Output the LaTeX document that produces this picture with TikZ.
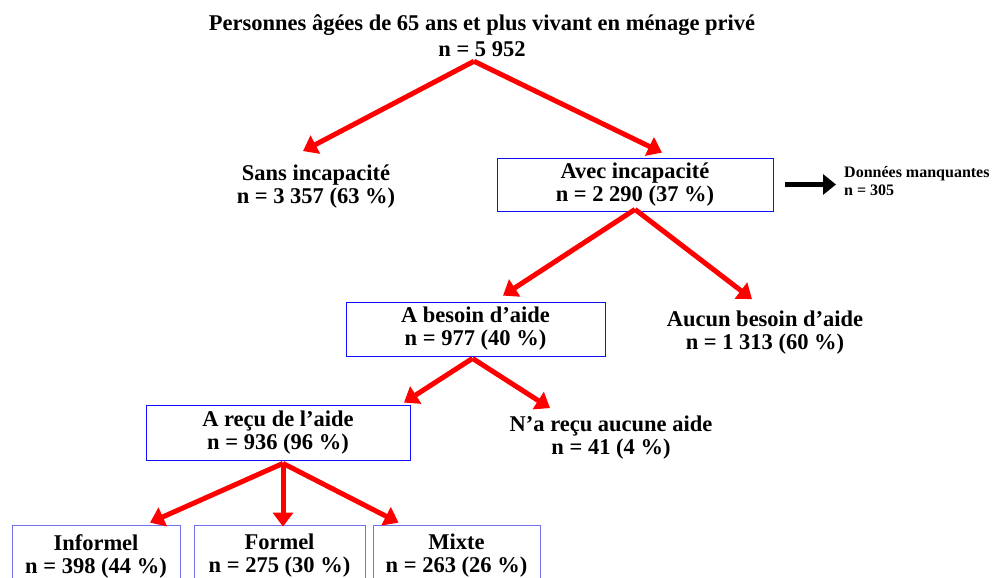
\documentclass[tikz,border=0pt]{standalone}
\usepackage{fontspec}
\setmainfont{Liberation Serif}
\usetikzlibrary{arrows.meta}

\begin{document}
\begin{tikzpicture}[x=1pt, y=-1pt]

% =======================================================
% Color definitions
% =======================================================
\definecolor{cred}{HTML}{FF0000}    % branch arrows
\definecolor{cbox}{HTML}{1010FF}    % box frames
\definecolor{cboxlt}{HTML}{7070F0}  % lower box frames

% =======================================================
% Layout parameters
% =======================================================
\def\picw{999}
\def\pich{578}

% =======================================================
% Styles
% =======================================================
\tikzset{
  lbl/.style    = {align=center, inner sep=0pt, font=\bfseries\fontsize{22.5}{23}\selectfont},
  boxed/.style  = {lbl, draw=cbox, line width=0.8pt},
  branch/.style = {cred, line width=5pt, -{Triangle[width=20pt, length=14pt]}},
  side/.style   = {black, line width=5pt, -{Triangle[width=20pt, length=13pt]}},
}

\useasboundingbox (0,0) rectangle (\picw,\pich);
\clip (0,0) rectangle (\picw,\pich);

% =======================================================
% Nodes
% =======================================================

% Top population
\node[lbl, font=\bfseries\fontsize{22.5}{26}\selectfont] (title) at (482,36)
    {Personnes âgées de 65 ans et plus vivant en ménage privé\\n = 5 952};

% Level 1
\node[lbl] (sans) at (316,187) {Sans incapacité\\n = 3 357 (63 \%)};
\node[boxed, minimum width=276, minimum height=53] (avec) at (635,184.5)
    {Avec incapacité\\n = 2 290 (37 \%)};
\node[lbl, font=\bfseries\fontsize{16}{18}\selectfont, align=left, anchor=west]
    (manque) at (844,181) {Données manquantes\\n = 305};

% Level 2
\node[boxed, minimum width=259, minimum height=54] (besoin) at (475.5,329)
    {A besoin d’aide\\n = 977 (40 \%)};
\node[lbl] (aucun) at (765,333) {Aucun besoin d’aide\\n = 1 313 (60 \%)};

% Level 3
\node[boxed, minimum width=264, minimum height=55] (recu) at (278,432.5)
    {A reçu de l’aide\\n = 936 (96 \%)};
\node[lbl] (nonrecu) at (611,438) {N’a reçu aucune aide\\n = 41 (4 \%)};

% Level 4 (cut by the page edge)
\begin{scope}[every node/.append style={boxed, draw=cboxlt, minimum height=62}]
\node[minimum width=168] (informel) at (96,556)  {Informel\\n = 398 (44 \%)};
\node[minimum width=171] (formel)   at (279.5,556) {Formel\\n = 275 (30 \%)};
\node[minimum width=167] (mixte)    at (456.5,556) {Mixte\\n = 263 (26 \%)};
\end{scope}

% =======================================================
% Connectors
% =======================================================

% title -> level 1
\draw[branch] ([shift={(-8,4)}]title.south) -- ([shift={(-13,-14)}]sans.north);
\draw[branch] ([shift={(-8,4)}]title.south) -- ([shift={(27,-5)}]avec.north);

% missing data
\draw[side] ([xshift=12]avec.east) -- ([xshift=-8]avec.east -| manque.west);

% avec -> level 2
\draw[branch] ([yshift=2]avec.south) -- ([shift={(27.5,-6)}]besoin.north);
\draw[branch] ([yshift=2]avec.south) -- ([shift={(-13,-12)}]aucun.north);

% besoin -> level 3
\draw[branch] ([shift={(-3,2)}]besoin.south) -- ([shift={(126,-2)}]recu.north);
\draw[branch] ([shift={(-3,2)}]besoin.south) -- ([shift={(-61,-8)}]nonrecu.north);

% recu -> level 4
\draw[branch] ([shift={(5,3)}]recu.south) -- ([shift={(54,-2)}]informel.north);
\draw[branch] ([shift={(5,3)}]recu.south) -- ([xshift=3.5,yshift=-2]formel.north);
\draw[branch] ([shift={(5,3)}]recu.south) -- ([shift={(-58,-2)}]mixte.north);

%%%%%%%%%%%%%%%%%%%%%%%%%%%%%%%%%%%%%%%%%%%%%%%%%%%%%%%%

\end{tikzpicture}
\end{document}
